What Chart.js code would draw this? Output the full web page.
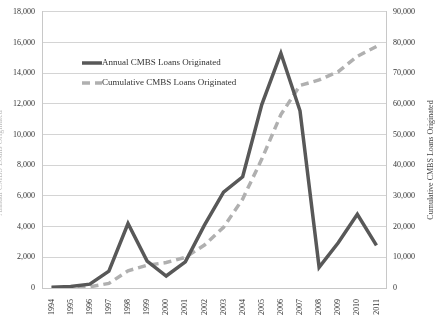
<!DOCTYPE html>
<html>
<head>
<meta charset="utf-8">
<script src="https://cdn.jsdelivr.net/npm/chart.js@4.4.1/dist/chart.umd.min.js"></script>
<style>
  html, body { margin: 0; padding: 0; background: #fff; }
  #wrap { width: 436px; height: 321px; position: relative; }
</style>
</head>
<body>
<div id="wrap"><canvas id="cmbsChart" width="436" height="321"></canvas></div>
<script>
// 年ごとのデータ
const years = ['1994','1995','1996','1997','1998','1999','2000','2001','2002','2003','2004','2005','2006','2007','2008','2009','2010','2011'];
const annualLoans = [50, 100, 250, 1100, 4200, 1750, 780, 1700, 4100, 6250, 7250, 11950, 15300, 11550, 1350, 2950, 4800, 2780];
const cumulativeLoans = [50, 150, 400, 1500, 5600, 7400, 8300, 10000, 14000, 19800, 29000, 42000, 56500, 66000, 67800, 70500, 75500, 78700];
const leftTicks = [0, 2000, 4000, 6000, 8000, 10000, 12000, 14000, 16000, 18000];
const rightTicks = [0, 10000, 20000, 30000, 40000, 50000, 60000, 70000, 80000, 90000];

const serif = "'Liberation Serif', 'DejaVu Serif', serif";
Chart.defaults.font.family = serif;
Chart.defaults.color = '#333';

// 凡例と軸タイトルを自前で描く
const overlayPlugin = {
    id: 'overlay',
    afterDraw(chart) {
        const ctx = chart.ctx;
        ctx.save();
        ctx.font = '9px ' + serif;
        ctx.textBaseline = 'middle';
        ctx.fillStyle = '#333';
        const items = [
            { ds: chart.data.datasets[0], y: 63 },
            { ds: chart.data.datasets[1], y: 83 }
        ];
        items.forEach(it => {
            ctx.strokeStyle = it.ds.borderColor;
            ctx.lineWidth = it.ds.borderWidth;
            ctx.setLineDash(it.ds.borderDash || []);
            ctx.beginPath();
            ctx.moveTo(82, it.y);
            ctx.lineTo(102, it.y);
            ctx.stroke();
            ctx.setLineDash([]);
            ctx.fillText(it.ds.label, 102, it.y);
        });
        // 軸タイトル
        ctx.font = '8px ' + serif;
        ctx.textAlign = 'center';
        ctx.fillStyle = '#444';
        ctx.translate(431, 160);
        ctx.rotate(-Math.PI / 2);
        ctx.fillText('Cumulative CMBS Loans Originated', 0, 0);
        ctx.restore();
        ctx.save();
        ctx.font = '8px ' + serif;
        ctx.textAlign = 'center';
        ctx.textBaseline = 'middle';
        ctx.fillStyle = '#bbb';
        ctx.translate(0, 163);
        ctx.rotate(-Math.PI / 2);
        ctx.fillText('Annual CMBS Loans Originated', 0, 0);
        ctx.restore();
    }
};

const fmt = v => v.toLocaleString('en-US');

new Chart(document.getElementById('cmbsChart'), {
    type: 'line',
    data: {
        labels: years,
        datasets: [{
            label: 'Annual CMBS Loans Originated',
            data: annualLoans,
            yAxisID: 'y',
            borderColor: '#585858',
            borderWidth: 3.5,
            pointRadius: 0,
            tension: 0,
            order: 1
        }, {
            label: 'Cumulative CMBS Loans Originated',
            data: cumulativeLoans,
            yAxisID: 'y2',
            borderColor: '#b0b0b0',
            borderWidth: 3.5,
            borderDash: [8, 5],
            pointRadius: 0,
            tension: 0,
            order: 2
        }]
    },
    options: {
        responsive: false,
        animation: false,
        layout: { padding: { top: 8, left: 0, right: 0, bottom: 0 } },
        plugins: { legend: { display: false }, tooltip: { enabled: false } },
        scales: {
            x: {
                offset: true,
                grid: { display: false },
                border: { color: '#c8c8c8' },
                ticks: { font: { size: 8 }, minRotation: 90, maxRotation: 90, padding: 3, color: '#333' },
                afterFit(scale) { scale.height = 33; }
            },
            y: {
                position: 'left',
                min: 0, max: 18000,
                afterBuildTicks(scale) { scale.ticks = leftTicks.map(v => ({ value: v })); },
                grid: { color: '#d4d4d4', drawTicks: false },
                border: { color: '#c8c8c8' },
                ticks: { font: { size: 8 }, padding: 7, color: '#333', callback: v => fmt(v) },
                afterFit(scale) { scale.width = 42; }
            },
            y2: {
                position: 'right',
                min: 0, max: 90000,
                afterBuildTicks(scale) { scale.ticks = rightTicks.map(v => ({ value: v })); },
                grid: { display: false, drawTicks: false },
                border: { color: '#c8c8c8' },
                ticks: { font: { size: 8 }, padding: 7, color: '#333', callback: v => fmt(v) },
                afterFit(scale) { scale.width = 50; }
            }
        }
    },
    plugins: [overlayPlugin]
});
</script>
</body>
</html>
